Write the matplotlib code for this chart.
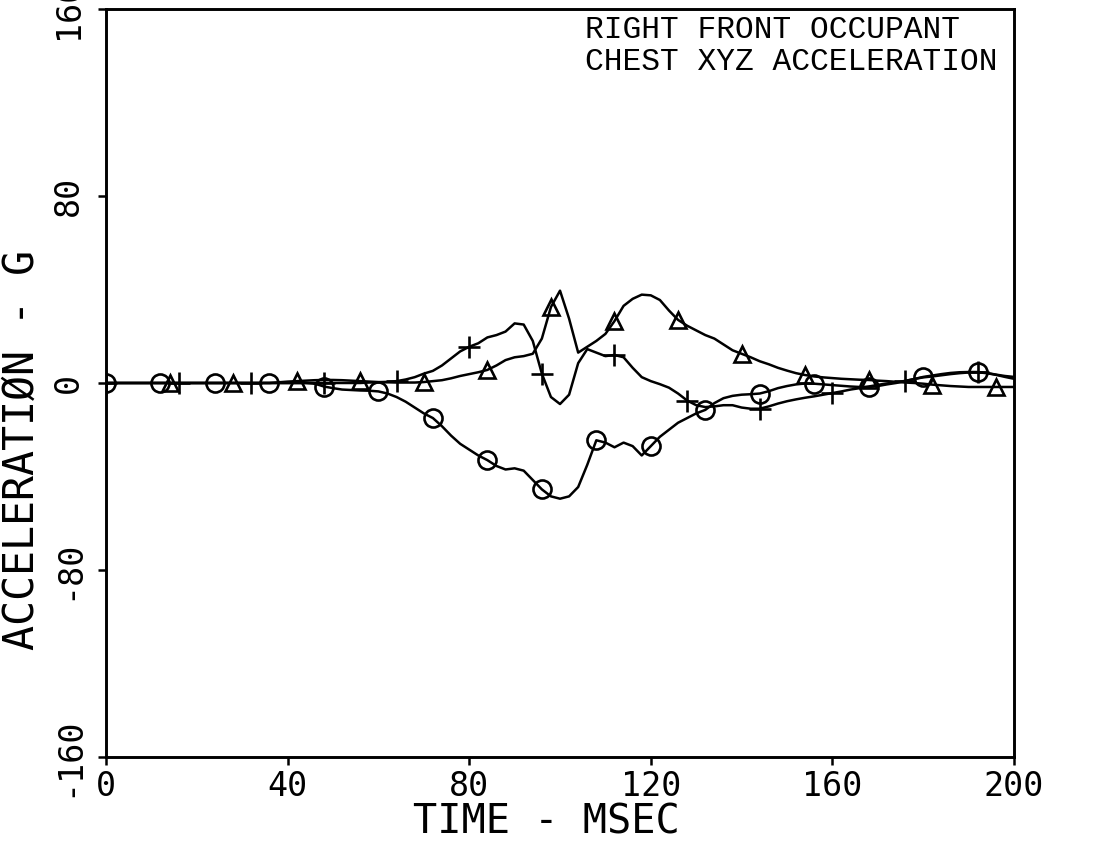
import numpy as np
import matplotlib
matplotlib.use("Agg")
import matplotlib.pyplot as plt

# time base, 2 ms steps
time_ms = np.arange(0, 201, 2)

# circle trace (goes negative)
accel_circle = [
	0, 0, 0, 0, 0, 0, 0, 0, 0, 0, 0, 0, 0, 0, 0, 0, 0, 0, 0, 0, 0, 0, 0,
	-0.3, -1.5, -2.2, -2.8, -3.0, -3.2, -3.3, -3.6, -4.5, -6.0, -8.0, -10.5, -13.0,
	-15.0, -18.5, -22.5, -26.0, -28.5, -31.0, -33.0, -35.5, -37.0, -36.5, -37.5,
	-41.5, -45.5, -48.5, -49.5, -48.5, -44.5, -35.0, -24.5, -25.5, -27.5, -25.5,
	-27.0, -31.0, -27.0, -23.0, -20.0, -17.0, -15.0, -13.0, -11.5, -8.6, -6.5,
	-5.5, -5.0, -4.8, -4.5, -3.5, -2.2, -1.3, -0.6, -0.2, -0.3, -0.6, -0.9, -1.2,
	-1.5, -1.7, -1.7, -1.3, -0.6, 0.0, 0.8, 1.7, 2.6, 3.2, 3.8, 4.3, 4.6, 4.7,
	4.7, 4.3, 3.6, 3.0, 2.6,
]

# triangle trace (double positive peak)
accel_triangle = [
	0, 0, 0, 0, 0, 0, 0, 0, 0, 0, 0, 0, 0, 0, 0, 0, 0, 0, 0,
	0.3, 0.6, 0.8, 1.0, 1.2, 1.3, 1.3, 1.2, 1.0, 0.8, 0.6, 0.4, 0.3, 0.2, 0.2,
	0.2, 0.4, 0.8, 1.2, 2.0, 3.0, 3.8, 4.6, 5.6, 7.5, 9.8, 11.0, 11.5, 12.5,
	19.0, 32.5, 39.5, 27.5, 13.0, 15.5, 18.0, 21.0, 26.5, 33.0, 36.0, 37.8, 37.5,
	35.5, 31.0, 27.0, 24.5, 22.5, 20.5, 19.0, 16.5, 14.0, 12.5, 11.0, 9.3, 8.0,
	6.5, 5.3, 4.2, 3.4, 2.8, 2.4, 2.1, 1.8, 1.6, 1.4, 1.3, 1.0, 0.8, 0.5, 0.2,
	0.0, -0.3, -0.7, -1.0, -1.3, -1.5, -1.7, -1.7, -1.7, -1.7, -1.7, -1.7,
]

# plus trace
accel_plus = [
	0, 0, 0, 0, 0, 0, 0, 0, 0, 0, 0, 0, 0, 0, 0, 0, 0, 0, 0, 0, 0, 0, 0, 0, 0, 0, 0, 0, 0,
	0.2, 0.3, 0.5, 0.8, 1.5, 2.5, 4.0, 5.2, 7.5, 10.5, 13.5, 15.5, 17.0, 19.5,
	20.5, 22.0, 25.5, 25.0, 18.0, 4.0, -6.0, -9.0, -5.0, 8.5, 14.5, 13.0, 11.5,
	12.0, 11.0, 6.5, 2.5, 0.8, -0.5, -2.0, -4.5, -7.5, -9.5, -10.3, -10.0, -9.5,
	-9.5, -10.5, -11.0, -11.0, -10.0, -8.8, -7.8, -7.0, -6.3, -5.7, -5.0, -4.3,
	-3.6, -2.8, -2.2, -1.5, -0.8, -0.2, 0.3, 0.9, 1.7, 2.4, 2.8, 3.3, 3.8, 4.2,
	4.5, 4.6, 4.2, 3.5, 2.6, 1.8,
]

# symbol spacing (ms) and first symbol time for each trace
circle_every, circle_start = 12, 0
triangle_every, triangle_start = 14, 14
plus_every, plus_start = 16, 0

x_ticks = [0, 40, 80, 120, 160, 200]
y_ticks = [-160, -80, 0, 80, 160]
title_lines = ["RIGHT FRONT OCCUPANT", "CHEST XYZ ACCELERATION"]

mono = "DejaVu Sans Mono"

fig = plt.figure(figsize=(10.94, 8.48), dpi=100)
ax = fig.add_axes([0.0969, 0.1073, 0.8300, 0.8821])

traces = [
	(accel_circle, "o", 13, circle_every, circle_start),
	(accel_triangle, "^", 11, triangle_every, triangle_start),
	(accel_plus, "+", 16, plus_every, plus_start),
]
for values, marker, msize, every, start in traces:
	values = np.asarray(values, dtype=float)
	ax.plot(time_ms, values, color="black", linewidth=1.8)
	sel = (time_ms >= start) & ((time_ms - start) % every == 0)
	ax.plot(time_ms[sel], values[sel], linestyle="none", marker=marker,
		markersize=msize, markerfacecolor="none", markeredgecolor="black",
		markeredgewidth=1.9)

ax.set_xlim(0, 200)
ax.set_ylim(-160, 160)
ax.set_xticks(x_ticks)
ax.set_yticks(y_ticks)
ax.set_xticklabels([str(v) for v in x_ticks], fontfamily=mono, fontsize=24)
ax.set_yticklabels([str(v) for v in y_ticks], fontfamily=mono, fontsize=24,
	rotation=90, va="center")
ax.tick_params(direction="out", length=6, width=1.8, top=False, right=False)
ax.tick_params(axis="x", pad=3)
ax.tick_params(axis="y", pad=9)

for spine in ax.spines.values():
	spine.set_linewidth(2.1)

ax.set_xlabel("TIME - MSEC", fontfamily=mono, fontsize=29, va="center")
ax.xaxis.set_label_coords(0.485, -0.088)
ax.set_ylabel("ACCELERATIØN - G", fontfamily=mono, fontsize=30, va="center")
ax.yaxis.set_label_coords(-0.093, 0.41)

ax.text(0.5275, 0.992, "\n".join(title_lines), transform=ax.transAxes,
	ha="left", va="top", fontfamily="Liberation Mono", fontsize=22.5,
	linespacing=1.1)

fig.savefig("out.png", dpi=100, facecolor="white")
